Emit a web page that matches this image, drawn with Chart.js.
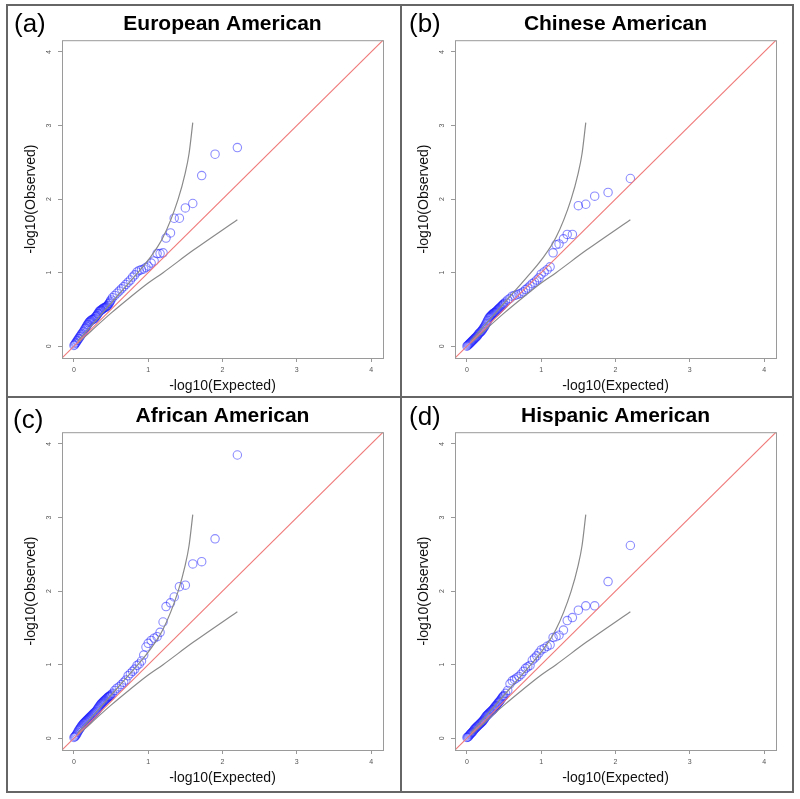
<!DOCTYPE html>
<html>
<head>
<meta charset="utf-8">
<script src="https://cdn.jsdelivr.net/npm/chart.js@4"></script>
<style>
  body { margin: 0; background: #fff; width: 800px; height: 799px; position: relative; overflow: hidden; font-family: "Liberation Sans", Arial, sans-serif; }
  .frame { position: absolute; background: #666; }
  .outer { position: absolute; left: 6px; top: 4px; width: 788px; height: 789px; box-sizing: border-box; border: 2px solid #666; }
  canvas { position: absolute; }
  .tag { position: absolute; font-size: 26px; line-height: 26px; color: #000; }
</style>
</head>
<body>
<div class="outer"></div>
<div class="frame" style="left:400px; top:4px; width:2px; height:789px;"></div>
<div class="frame" style="left:6px; top:396px; width:788px; height:2px;"></div>

<canvas id="pa" width="392" height="390" style="left:8px; top:6px;"></canvas>
<canvas id="pb" width="392" height="390" style="left:401px; top:6px;"></canvas>
<canvas id="pc" width="392" height="390" style="left:8px; top:398px;"></canvas>
<canvas id="pd" width="392" height="390" style="left:401px; top:398px;"></canvas>

<div class="tag" style="left:14px; top:10px;">(a)</div>
<div class="tag" style="left:409px; top:10px;">(b)</div>
<div class="tag" style="left:13px; top:406px;">(c)</div>
<div class="tag" style="left:409px; top:403px;">(d)</div>

<script>
// axis range and ticks (R style: 0..4 with 4% extension)
const axisMin = -0.16;
const axisMax = 4.16;
const tickValues = [0, 1, 2, 3, 4];

const titles = ['European American', 'Chinese American', 'African American', 'Hispanic American'];

// expected -log10(p), shared by all panels
const expected = [2.2, 1.9, 1.72, 1.6, 1.5, 1.42, 1.35, 1.3, 1.24, 1.2, 1.16, 1.12, 1.08, 1.04, 1.0,
  0.97, 0.94, 0.91, 0.88, 0.85, 0.82, 0.79, 0.76, 0.73, 0.70, 0.67, 0.64, 0.61, 0.58, 0.55, 0.52,
  0.50, 0.49, 0.48, 0.47, 0.46, 0.45, 0.44, 0.43, 0.42, 0.41,
  0.40, 0.39, 0.38, 0.37, 0.36, 0.35, 0.34, 0.33, 0.32, 0.31,
  0.30, 0.29, 0.28, 0.27, 0.26, 0.25, 0.24, 0.23, 0.22, 0.21,
  0.20, 0.19, 0.18, 0.17, 0.16, 0.15, 0.14, 0.13, 0.12, 0.11,
  0.10, 0.09, 0.08, 0.07, 0.06, 0.05, 0.04, 0.03, 0.02, 0.01, 0.0];

// observed -log10(p)
const obsEuropean = [2.70, 2.61, 2.32, 1.94, 1.88, 1.74, 1.74, 1.54, 1.47, 1.27, 1.26, 1.26, 1.16, 1.13, 1.09,
  1.07, 1.05, 1.04, 1.03, 1.01, 0.97, 0.94, 0.90, 0.87, 0.84, 0.81, 0.78, 0.75, 0.72, 0.69, 0.66,
  0.63, 0.61, 0.59, 0.58, 0.56, 0.55, 0.54, 0.53, 0.53, 0.52,
  0.52, 0.51, 0.50, 0.49, 0.49, 0.48, 0.47, 0.45, 0.44, 0.42,
  0.41, 0.40, 0.38, 0.37, 0.37, 0.36, 0.36, 0.35, 0.34, 0.33,
  0.32, 0.30, 0.29, 0.27, 0.25, 0.24, 0.22, 0.20, 0.19, 0.17,
  0.16, 0.14, 0.13, 0.11, 0.10, 0.08, 0.07, 0.05, 0.04, 0.02, 0.01];
const obsChinese = [2.28, 2.09, 2.04, 1.93, 1.91, 1.52, 1.52, 1.46, 1.39, 1.38, 1.27, 1.08, 1.04, 1.01, 0.98,
  0.93, 0.90, 0.87, 0.85, 0.82, 0.79, 0.77, 0.74, 0.72, 0.71, 0.70, 0.69, 0.68, 0.65, 0.63, 0.60,
  0.58, 0.57, 0.56, 0.55, 0.54, 0.53, 0.52, 0.51, 0.50, 0.49,
  0.48, 0.47, 0.46, 0.455, 0.45, 0.44, 0.43, 0.42, 0.41, 0.40,
  0.39, 0.37, 0.35, 0.33, 0.31, 0.29, 0.27, 0.255, 0.24, 0.225,
  0.21, 0.20, 0.19, 0.18, 0.17, 0.155, 0.14, 0.13, 0.12, 0.11,
  0.10, 0.09, 0.08, 0.07, 0.06, 0.05, 0.04, 0.03, 0.02, 0.01, 0.0];
const obsAfrican = [3.85, 2.71, 2.40, 2.37, 2.08, 2.06, 1.92, 1.84, 1.79, 1.58, 1.44, 1.38, 1.36, 1.33, 1.29,
  1.24, 1.13, 1.05, 1.01, 0.99, 0.94, 0.91, 0.88, 0.85, 0.79, 0.76, 0.73, 0.70, 0.68, 0.65, 0.61,
  0.59, 0.58, 0.57, 0.565, 0.56, 0.55, 0.54, 0.53, 0.52, 0.51,
  0.50, 0.49, 0.48, 0.47, 0.46, 0.445, 0.43, 0.415, 0.40, 0.385,
  0.37, 0.36, 0.35, 0.34, 0.33, 0.32, 0.31, 0.30, 0.29, 0.28,
  0.27, 0.26, 0.25, 0.24, 0.23, 0.22, 0.21, 0.20, 0.19, 0.175,
  0.16, 0.145, 0.13, 0.115, 0.10, 0.08, 0.06, 0.045, 0.03, 0.02, 0.01];
const obsHispanic = [2.62, 2.13, 1.80, 1.80, 1.74, 1.64, 1.60, 1.47, 1.40, 1.38, 1.37, 1.27, 1.25, 1.22, 1.20,
  1.16, 1.12, 1.09, 1.06, 0.99, 0.97, 0.95, 0.91, 0.87, 0.84, 0.82, 0.80, 0.78, 0.74, 0.65, 0.61,
  0.58, 0.57, 0.56, 0.545, 0.53, 0.515, 0.50, 0.49, 0.48, 0.465,
  0.45, 0.44, 0.43, 0.415, 0.40, 0.39, 0.38, 0.37, 0.36, 0.35,
  0.34, 0.33, 0.32, 0.31, 0.30, 0.285, 0.27, 0.255, 0.24, 0.23,
  0.22, 0.21, 0.20, 0.19, 0.18, 0.17, 0.16, 0.15, 0.14, 0.13,
  0.12, 0.105, 0.09, 0.08, 0.07, 0.06, 0.05, 0.035, 0.02, 0.015, 0.01];

// 95% confidence envelope (same in every panel)
const upperX = [0.05, 0.2, 0.4, 0.6, 0.8, 1.0, 1.2, 1.4, 1.5, 1.55, 1.6];
const upperY = [0.07, 0.24, 0.47, 0.70, 0.93, 1.17, 1.48, 1.99, 2.36, 2.62, 3.04];
const lowerX = [0.05, 0.15, 0.3, 0.5, 0.75, 1.0, 1.2, 1.6, 2.2];
const lowerY = [0.04, 0.13, 0.27, 0.45, 0.66, 0.86, 1.0, 1.3, 1.72];

const fontFamily = '"Liberation Sans", Arial, sans-serif';

const boxPlugin = {
  id: 'box',
  afterDraw(chart) {
    const a = chart.chartArea;
    const ctx = chart.ctx;
    ctx.save();
    ctx.strokeStyle = '#9a9a9a';
    ctx.lineWidth = 1;
    ctx.strokeRect(a.left + 0.5, a.top + 0.5, a.right - a.left, a.bottom - a.top);
    ctx.restore();
  }
};

function pairs(xs, ys) {
  return xs.map((x, i) => ({ x: x, y: ys[i] }));
}

function makePanel(id, title, observed) {
  const ctx = document.getElementById(id).getContext('2d');
  new Chart(ctx, {
    type: 'scatter',
    data: {
      datasets: [
        { data: [{ x: axisMin, y: axisMin }, { x: axisMax, y: axisMax }], showLine: true,
          borderColor: '#f07a7a', borderWidth: 1.1, pointRadius: 0 },
        { data: pairs(upperX, upperY), showLine: true, borderColor: '#8a8a8a', borderWidth: 1.2,
          pointRadius: 0, cubicInterpolationMode: 'monotone' },
        { data: pairs(lowerX, lowerY), showLine: true, borderColor: '#8a8a8a', borderWidth: 1.2,
          pointRadius: 0, cubicInterpolationMode: 'monotone' },
        { data: pairs(expected, observed), pointRadius: 4.2, pointBorderWidth: 1.1,
          pointBorderColor: 'rgba(25,25,255,0.5)', pointBackgroundColor: 'rgba(0,0,0,0)' }
      ]
    },
    options: {
      responsive: false,
      animation: false,
      events: [],
      layout: { padding: { left: 0, right: 17, top: 0, bottom: 0 } },
      plugins: {
        legend: { display: false },
        tooltip: { enabled: false },
        title: {
          display: true, text: title, fullSize: false, color: '#000',
          font: { family: fontFamily, size: 21, weight: 'bold' },
          padding: { top: 6, bottom: 3 }
        }
      },
      scales: {
        x: {
          type: 'linear', min: axisMin, max: axisMax,
          afterBuildTicks: s => { s.ticks = tickValues.map(v => ({ value: v })); },
          afterFit: s => { s.height = 38; },
          grid: { drawOnChartArea: false, drawTicks: true, tickLength: 4, color: '#999' },
          border: { display: false },
          ticks: { font: { family: fontFamily, size: 7 }, color: '#555', padding: 4, maxRotation: 0, autoSkip: false },
          title: { display: true, text: '-log10(Expected)', color: '#111',
            font: { family: fontFamily, size: 14 }, padding: { top: 0, bottom: 1 } }
        },
        y: {
          type: 'linear', min: axisMin, max: axisMax,
          afterBuildTicks: s => { s.ticks = tickValues.map(v => ({ value: v })); },
          afterFit: s => { s.width = 54; },
          grid: { drawOnChartArea: false, drawTicks: true, tickLength: 4, color: '#999' },
          border: { display: false },
          ticks: { font: { family: fontFamily, size: 7 }, color: '#555', padding: 7,
            minRotation: 90, maxRotation: 90, crossAlign: 'center', autoSkip: false },
          title: { display: true, text: '-log10(Observed)', color: '#111',
            font: { family: fontFamily, size: 14 }, padding: { top: 15, bottom: 0 } }
        }
      }
    },
    plugins: [boxPlugin]
  });
}

makePanel('pa', titles[0], obsEuropean);
makePanel('pb', titles[1], obsChinese);
makePanel('pc', titles[2], obsAfrican);
makePanel('pd', titles[3], obsHispanic);
</script>
</body>
</html>
